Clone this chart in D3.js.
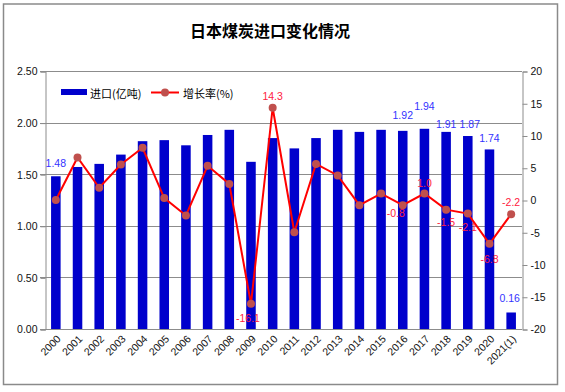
<!DOCTYPE html>
<html>
<head>
<meta charset="utf-8">
<script src="https://cdn.jsdelivr.net/npm/d3@7"></script>
<style>
  body { margin: 0; background: #fff; }
  svg text { font-family: "Liberation Sans", Arial, "Noto Sans CJK SC", sans-serif; }
  .grid line { stroke: #8c8c8c; stroke-width: 1; }
</style>
</head>
<body>
<svg width="565" height="392"></svg>
<script>
var years = ['2000','2001','2002','2003','2004','2005','2006','2007','2008','2009','2010',
             '2011','2012','2013','2014','2015','2016','2017','2018','2019','2020','2021(1)'];
var imports = [1.48, 1.57, 1.60, 1.69, 1.82, 1.83, 1.78, 1.88, 1.93, 1.62, 1.85,
               1.75, 1.85, 1.93, 1.91, 1.93, 1.92, 1.94, 1.91, 1.87, 1.74, 0.16];
var growth = [0.0, 6.6, 1.9, 5.5, 8.1, 0.3, -2.4, 5.3, 2.5, -16.1, 14.3,
              -5.0, 5.6, 3.8, -0.8, 1.0, -0.8, 1.0, -1.5, -2.1, -6.8, -2.2];
var leftTicks = [0, 0.5, 1.0, 1.5, 2.0, 2.5];
var rightTicks = [-20, -15, -10, -5, 0, 5, 10, 15, 20];
var barLabelYears = ['2000','2016','2017','2018','2019','2020','2021(1)'];
var lineLabelYears = ['2009','2010','2016','2017','2018','2019','2020','2021(1)'];
var seriesNames = ['进口(亿吨)', '增长率(%)'];
var title = '日本煤炭进口变化情况';

var svg = d3.select('svg');
var plotLeft = 45, plotRight = 522, plotTop = 71, plotBottom = 329;

// outer frame
svg.append('rect')
  .attr('x', 3.5).attr('y', 4).attr('width', 554).attr('height', 380.5)
  .attr('fill', 'none').attr('stroke', '#8a8a8a').attr('stroke-width', 1.5);

svg.append('text')
  .attr('x', 270).attr('y', 30)
  .attr('text-anchor', 'middle').attr('dominant-baseline', 'central')
  .style('font-family', '"Noto Sans CJK SC", sans-serif')
  .style('font-size', '16px').style('font-weight', 'bold')
  .text(title);

var x = d3.scaleBand().domain(years).range([plotLeft, plotRight])
          .paddingInner(0.56).paddingOuter(0.28);
var yL = d3.scaleLinear().domain([0, 2.5]).range([plotBottom, plotTop]);
var yR = d3.scaleLinear().domain([-20, 20]).range([plotBottom, plotTop]);
var cx = d => x(d) + x.bandwidth() / 2;

// gridlines
svg.append('g').attr('class', 'grid')
  .selectAll('line').data(leftTicks).enter().append('line')
    .attr('x1', plotLeft - 5).attr('x2', plotRight)
    .attr('y1', d => Math.round(yL(d)) + 0.5).attr('y2', d => Math.round(yL(d)) + 0.5);

// left axis
var axL = svg.append('g').attr('transform', 'translate(' + (plotLeft + 0.5) + ',0.5)')
  .call(d3.axisLeft(yL).tickValues(leftTicks).tickFormat(d => d.toFixed(2)).tickSize(5).tickPadding(3));
axL.selectAll('line, path').attr('stroke', '#8c8c8c');
axL.selectAll('text').style('font-size', '10.5px').attr('fill', '#111');

// right axis
var axR = svg.append('g').attr('transform', 'translate(' + (plotRight + 0.5) + ',0.5)')
  .call(d3.axisRight(yR).tickValues(rightTicks).tickFormat(d => String(d)).tickSize(5).tickPadding(3));
axR.selectAll('line, path').attr('stroke', '#8c8c8c');
axR.selectAll('text').style('font-size', '10.5px').attr('fill', '#111');

// bottom axis line
svg.append('line')
  .attr('x1', plotLeft).attr('x2', plotRight).attr('y1', plotBottom + 0.5).attr('y2', plotBottom + 0.5)
  .attr('stroke', '#8c8c8c');

// x labels
svg.append('g').selectAll('text').data(years).enter().append('text')
  .attr('transform', d => 'translate(' + (cx(d) + 3) + ',' + (plotBottom + 8) + ') rotate(-45)')
  .attr('text-anchor', 'end').attr('dy', '0.35em')
  .style('font-size', '10.5px').attr('fill', '#111')
  .text(d => d);

// bars
svg.append('g').selectAll('rect').data(years).enter().append('rect')
  .attr('x', d => x(d)).attr('width', x.bandwidth())
  .attr('y', (d, i) => yL(imports[i]))
  .attr('height', (d, i) => plotBottom - yL(imports[i]))
  .attr('fill', '#0000cc');

// line
var line = d3.line().x((d, i) => cx(years[i])).y(d => yR(d));
svg.append('path').datum(growth)
  .attr('d', line).attr('fill', 'none').attr('stroke', '#ff0000').attr('stroke-width', 2);
svg.append('g').selectAll('circle').data(growth).enter().append('circle')
  .attr('cx', (d, i) => cx(years[i])).attr('cy', d => yR(d)).attr('r', 4)
  .attr('fill', '#c0504d');

// bar labels (label offsets as placed in the source chart)
var barNudge = {'2000': [0, -13], '2016': [0, -16], '2017': [0, -23], '2018': [0, -8],
                '2019': [2, -12], '2020': [0, -11], '2021(1)': [-1.5, -14]};
svg.append('g').selectAll('text').data(barLabelYears).enter().append('text')
  .attr('x', d => cx(d) + barNudge[d][0])
  .attr('y', d => yL(imports[years.indexOf(d)]) + barNudge[d][1])
  .attr('text-anchor', 'middle').attr('dominant-baseline', 'central')
  .style('font-size', '10.5px').attr('fill', '#3333ff')
  .text(d => imports[years.indexOf(d)].toFixed(2));

var lineNudge = {'2009': [-3, 14], '2010': [0, -12], '2016': [-7, 8], '2017': [0, -11],
                 '2018': [0, 12], '2019': [0, 13], '2020': [0, 15], '2021(1)': [0, -12]};
svg.append('g').selectAll('text').data(lineLabelYears).enter().append('text')
  .attr('x', d => cx(d) + lineNudge[d][0])
  .attr('y', d => yR(growth[years.indexOf(d)]) + lineNudge[d][1])
  .attr('text-anchor', 'middle').attr('dominant-baseline', 'central')
  .style('font-size', '10.5px').attr('fill', '#ff2040')
  .text(d => growth[years.indexOf(d)].toFixed(1));

// legend
var lg = svg.append('g');
lg.append('rect').attr('x', 61).attr('y', 89).attr('width', 26).attr('height', 6).attr('fill', '#0000cc');
lg.append('text').attr('x', 90).attr('y', 92.5).attr('dominant-baseline', 'central')
  .style('font-size', '11px').style('font-family', '"Noto Sans CJK SC", sans-serif').text(seriesNames[0]);
lg.append('line').attr('x1', 151).attr('x2', 179).attr('y1', 92.5).attr('y2', 92.5)
  .attr('stroke', '#ff0000').attr('stroke-width', 2);
lg.append('circle').attr('cx', 165).attr('cy', 92.5).attr('r', 4).attr('fill', '#c0504d');
lg.append('text').attr('x', 183).attr('y', 92.5).attr('dominant-baseline', 'central')
  .style('font-size', '11px').style('font-family', '"Noto Sans CJK SC", sans-serif').text(seriesNames[1]);
</script>
</body>
</html>
